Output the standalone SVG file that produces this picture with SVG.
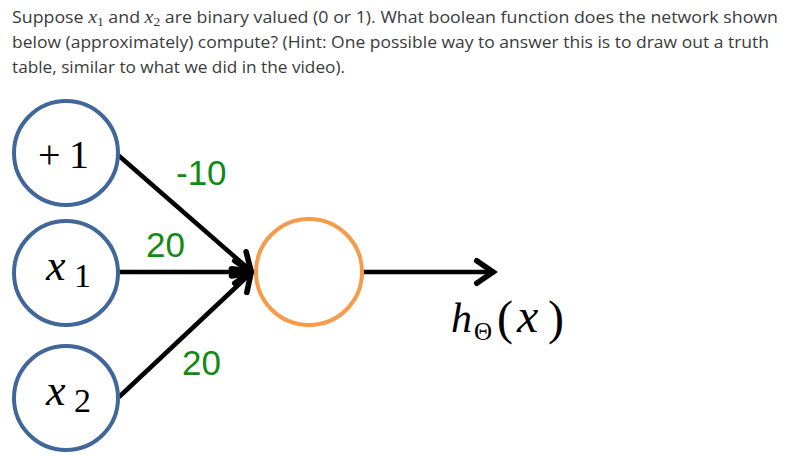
<svg xmlns="http://www.w3.org/2000/svg" width="794" height="456" viewBox="0 0 794 456">
<style>
.q{font-family:"Open Sans","Liberation Sans",sans-serif;font-size:17px;fill:#3a3a3a}
.mi{font-family:"Liberation Serif","DejaVu Serif",serif;font-style:italic}
.mr{font-family:"Liberation Serif","DejaVu Serif",serif}
.in{fill:#fff;stroke:#41669a;stroke-width:4}
.out{fill:#fff;stroke:#f79a4a;stroke-width:4}
.w{font-family:"Liberation Sans","Open Sans",sans-serif;font-size:35px;fill:#118a11}
.e{stroke:#000;stroke-width:4.5;fill:none}
</style>
<defs>
<marker id="ah" markerUnits="userSpaceOnUse" markerWidth="30" markerHeight="30" refX="0" refY="0" viewBox="-16 -12 20 24" orient="auto" overflow="visible">
<path d="M -13 -9 L 0 0 L -13 9" fill="none" stroke="#000" stroke-width="4.5" stroke-linecap="round" stroke-linejoin="miter"/>
</marker>
</defs>
<g id="question">
<text class="q" x="12" y="23" textLength="766" lengthAdjust="spacingAndGlyphs">Suppose <tspan class="mi" font-size="19">x</tspan><tspan class="mr" font-size="13" dy="3">1</tspan><tspan dy="-3"> and </tspan><tspan class="mi" font-size="19">x</tspan><tspan class="mr" font-size="13" dy="3">2</tspan><tspan dy="-3"> are binary valued (0 or 1). What boolean function does the network shown</tspan></text>
<text class="q" x="12" y="48" textLength="757" lengthAdjust="spacingAndGlyphs">below (approximately) compute? (Hint: One possible way to answer this is to draw out a truth</text>
<text class="q" x="12" y="73" textLength="333" lengthAdjust="spacingAndGlyphs">table, similar to what we did in the video).</text>
</g>
<g id="connectors">
<line class="e" x1="118" y1="155" x2="251" y2="271" marker-end="url(#ah)"/>
<line class="e" x1="119" y1="272" x2="251" y2="272" marker-end="url(#ah)"/>
<line class="e" x1="119" y1="397" x2="251" y2="273" marker-end="url(#ah)"/>
<line class="e" x1="363" y1="272" x2="493" y2="272" marker-end="url(#ah)"/>
<text class="w" x="176" y="185">-10</text>
<text class="w" x="146" y="257">20</text>
<text class="w" x="182" y="375">20</text>
</g>
<g id="bias">
<circle class="in" cx="66" cy="153" r="52"/>
<text class="mr" x="38" y="168" font-size="40" textLength="51" lengthAdjust="spacing">+1</text>
</g>
<g id="x1">
<circle class="in" cx="66" cy="273" r="52"/>
<text class="mi" x="46" y="280" font-size="44">x</text>
<text class="mr" x="74" y="287" font-size="34">1</text>
</g>
<g id="x2">
<circle class="in" cx="66" cy="398" r="52"/>
<text class="mi" x="46" y="405" font-size="44">x</text>
<text class="mr" x="74" y="412" font-size="34">2</text>
</g>
<g id="output">
<circle class="out" cx="309" cy="272" r="53"/>
</g>
<g id="h">
<text class="mi" x="451" y="332" font-size="42">h</text>
<text class="mr" x="474" y="340" font-size="25">Θ</text>
<text class="mr" x="497" y="334" font-size="48">(</text>
<text class="mi" x="517" y="332" font-size="48">x</text>
<text class="mr" x="548" y="334" font-size="48">)</text>
</g>
</svg>
